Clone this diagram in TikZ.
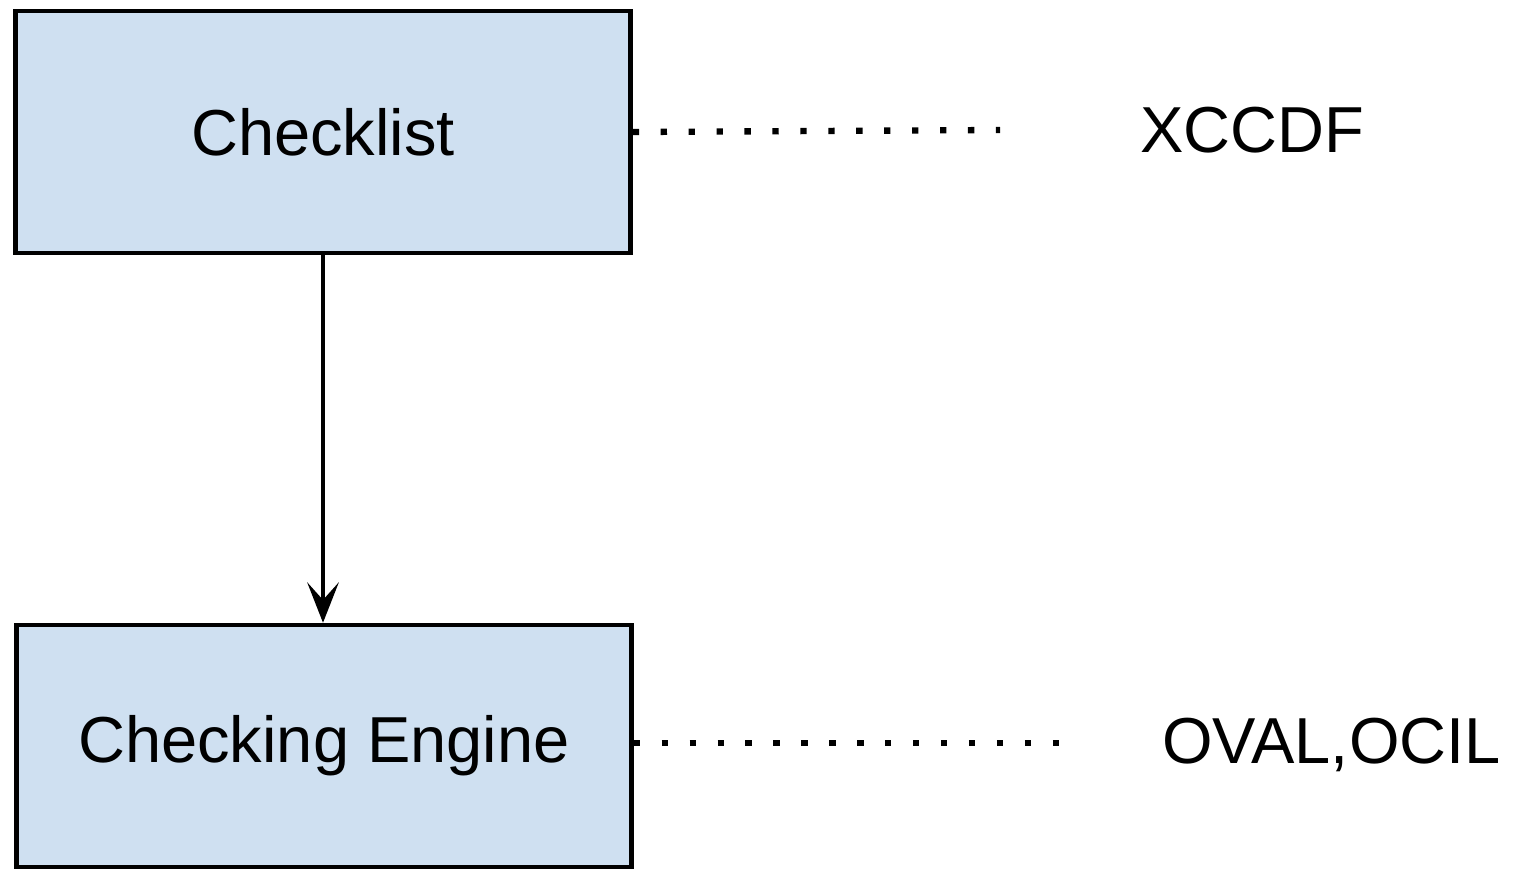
\documentclass[tikz,border=0pt]{standalone}
\usepackage{fontspec}
\setmainfont{Liberation Sans}
\usetikzlibrary{arrows.meta, positioning}

\definecolor{boxblue}{RGB}{207,224,241}

\begin{document}
\begin{tikzpicture}[
        x=0.02cm, y=-0.02cm,
        font=\fontsize{37}{44}\selectfont,
        >={Stealth[length=23pt, width=18pt, inset=10pt]},
        block/.style={
            draw=black,
            fill=boxblue,
            line width=2.6pt,
            minimum width=12.3cm,
            minimum height=4.84cm,
            inner sep=0pt
        },
        std/.style={
            anchor=west,
            inner sep=0pt
        },
        link/.style={
            line width=3.6pt,
            dash pattern=on 3.6pt off 12.3pt
        }
    ]

        \useasboundingbox (0,0) rectangle (1517,869);

        \node[block] (checklist) at (323,132) {Checklist};
        \node[block] (engine) at (324,746) {Checking Engine};

        \node[std] (xccdf) at (1140,130) {XCCDF};
        \node[std] (oval) at (1162,745) {OVAL,OCIL};

        \coordinate (xccdfEnd) at (1000,130);
        \coordinate (ovalEnd) at (1062,743);

        \draw[line width=2pt, ->] (checklist.south) -- (checklist.south |- engine.north);

        \draw[link] (checklist.east) -- (xccdfEnd);
        \draw[link] (engine.east |- ovalEnd) -- (ovalEnd);

    \end{tikzpicture}
\end{document}
